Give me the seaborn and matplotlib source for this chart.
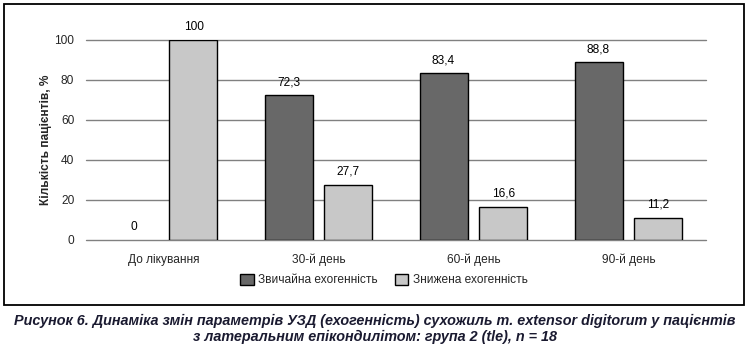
import matplotlib
matplotlib.use("Agg")
import matplotlib.pyplot as plt
import matplotlib.patches as mpatches
import seaborn as sns
import pandas as pd

categories = ["До лікування", "30-й день", "60-й день", "90-й день"]
series_names = ["Звичайна ехогенність", "Знижена ехогенність"]
normal_values = [0, 72.3, 83.4, 88.8]
reduced_values = [100, 27.7, 16.6, 11.2]
value_labels_normal = ["0", "72,3", "83,4", "88,8"]
value_labels_reduced = ["100", "27,7", "16,6", "11,2"]
y_ticks = [0, 20, 40, 60, 80, 100]
y_label = "Кількість пацієнтів, %"
caption = ("Рисунок 6. Динаміка змін параметрів УЗД (ехогенність) сухожиль m. extensor digitorum у пацієнтів\n"
           "з латеральним епікондилітом: група 2 (tle), n = 18")

df = pd.DataFrame({
    "cat": categories * 2,
    "series": [series_names[0]] * 4 + [series_names[1]] * 4,
    "val": normal_values + reduced_values,
})

sns.set_theme(style="white")
plt.rcParams["font.family"] = ["Liberation Sans", "DejaVu Sans"]

fs = 8.6

fig = plt.figure(figsize=(7.49, 3.5), dpi=100)
ax = fig.add_axes([86 / 749, 110 / 350, 620 / 749, 200 / 350])

palette = {series_names[0]: "#686868", series_names[1]: "#c8c8c8"}
sns.barplot(data=df, x="cat", y="val", hue="series", order=categories,
            hue_order=series_names, palette=palette, width=0.774, gap=0.2,
            edgecolor="black", linewidth=1.0, saturation=1, ax=ax, zorder=3,
            legend=False)

# hide outline of zero-height bars
for container in ax.containers:
    for patch in container:
        if patch.get_height() == 0:
            patch.set_linewidth(0)

ax.set_ylim(0, 100)
ax.set_xlim(-0.5, 3.5)
ax.set_yticks(y_ticks)
ax.set_yticklabels([str(t) for t in y_ticks], fontsize=fs)
ax.yaxis.grid(True, color="#808080", linewidth=1.0, zorder=0)
ax.set_axisbelow(True)
for line in ax.get_ygridlines():
    line.set_clip_on(False)
for s in ax.spines.values():
    s.set_visible(False)
ax.tick_params(axis="y", length=0, pad=8.5)
ax.tick_params(axis="x", length=0, pad=10, labelsize=fs)
ax.set_xlabel("")
ax.set_ylabel(y_label, fontsize=fs, fontweight="bold", labelpad=2)

labels_all = [value_labels_normal, value_labels_reduced]
for container, labs in zip(ax.containers, labels_all):
    ax.bar_label(container, labels=labs, padding=5, fontsize=fs, color="black")

handles = [mpatches.Patch(facecolor=palette[n], edgecolor="black", linewidth=1.0, label=n)
           for n in series_names]
fig.legend(handles=handles, loc="center", bbox_to_anchor=(384 / 749, 1 - 280 / 350),
           ncol=2, frameon=False, fontsize=fs, handlelength=1.1, handleheight=1.1,
           handletextpad=0.35, columnspacing=1.5)

border = mpatches.Rectangle((4 / 749, 1 - 305 / 350), 740 / 749, 301 / 350,
                            transform=fig.transFigure, fill=False,
                            edgecolor="black", linewidth=1.3)
fig.patches.append(border)

fig.text(375 / 749, 1 - 329 / 350, caption, ha="center", va="center",
         fontsize=10.4, fontweight="bold", fontstyle="italic", color="#1a1a30",
         linespacing=1.25)

fig.savefig("out.png", dpi=100)
